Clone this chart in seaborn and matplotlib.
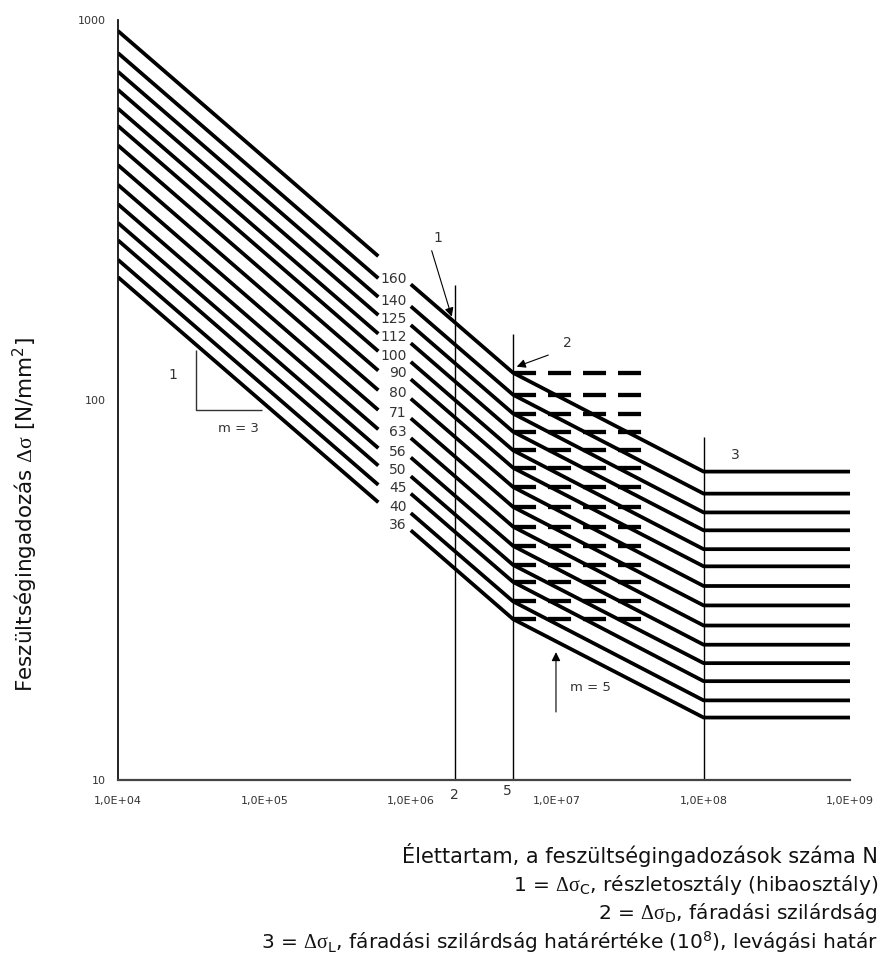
import matplotlib
matplotlib.use("Agg")
import matplotlib.pyplot as plt
import numpy as np
import pandas as pd
import seaborn as sns
from matplotlib.ticker import FixedLocator, FixedFormatter, NullLocator
from matplotlib.transforms import blended_transform_factory

# Detail categories: stress range at 2*10^6 cycles [N/mm^2]
categories = [160, 140, 125, 112, 100, 90, 80, 71, 63, 56, 50, 45, 40, 36]

# Stress range of each category at the curve vertices
stress_1e4 = [935.7, 818.7, 731.0, 655.0, 584.8, 526.3, 467.8, 415.2, 368.4, 327.5, 292.4, 263.2, 233.9, 210.5]
stress_6e5 = [239.0, 209.1, 186.7, 167.3, 149.4, 134.4, 119.5, 106.1, 94.1, 83.7, 74.7, 67.2, 59.8, 53.8]
stress_1e6 = [201.6, 176.4, 157.5, 141.1, 126.0, 113.4, 100.8, 89.5, 79.4, 70.6, 63.0, 56.7, 50.4, 45.4]
stress_D = [117.9, 103.2, 92.1, 82.5, 73.7, 66.3, 59.0, 52.3, 46.4, 41.3, 36.8, 33.2, 29.5, 26.5]
stress_L = [64.8, 56.7, 50.6, 45.4, 40.5, 36.5, 32.4, 28.8, 25.5, 22.7, 20.3, 18.2, 16.2, 14.6]

# Cycle counts of the vertices
N_START, N_GAP_LO, N_GAP_HI = 1e4, 6e5, 1e6
N_C, N_D, N_L, N_END = 2e6, 5e6, 1e8, 1e9
N_DASH_END = 3.86e7

x_ticks = [1e4, 1e5, 1e6, 1e7, 1e8, 1e9]
x_tick_labels = ["1,0E+04", "1,0E+05", "1,0E+06", "1,0E+07", "1,0E+08", "1,0E+09"]
y_ticks = [10, 100, 1000]
y_tick_labels = ["10", "100", "1000"]

# Long table: one left branch (m = 3) and one right branch per category
rows = []
for i, c in enumerate(categories):
    for n, s in [(N_START, stress_1e4[i]), (N_GAP_LO, stress_6e5[i])]:
        rows.append({"N": n, "S": s, "branch": f"{c}-a"})
    for n, s in [(N_GAP_HI, stress_1e6[i]), (N_C, c), (N_D, stress_D[i]),
                 (N_L, stress_L[i]), (N_END, stress_L[i])]:
        rows.append({"N": n, "S": s, "branch": f"{c}-b"})
curves = pd.DataFrame(rows)

sns.set_style("white")
plt.rcParams["font.family"] = ["DejaVu Sans"]
plt.rcParams["mathtext.fontset"] = "custom"
plt.rcParams["mathtext.rm"] = "Liberation Serif"
plt.rcParams["mathtext.sf"] = "DejaVu Sans"
plt.rcParams["lines.scale_dashes"] = False
plt.rcParams["lines.solid_capstyle"] = "butt"

TXT = "#333333"

fig = plt.figure(figsize=(8.83, 9.65), dpi=100)
ax = fig.add_axes([118 / 883, 1 - 780 / 965, 732 / 883, 760 / 965])
ax.set_xscale("log")
ax.set_yscale("log")

sns.lineplot(data=curves, x="N", y="S", units="branch", estimator=None, sort=False,
             color="black", lw=2.7, ax=ax, legend=False)

# Fatigue limits shown as dashed levels
ax.hlines(stress_D, N_D, N_DASH_END, colors="black", lw=3.1,
          linestyles=[(0, (16.6, 8.6))])

# Reference verticals at 2e6, 5e6 and 1e8 cycles
ax.vlines([N_C, N_D, N_L], 10, [200.7, 149.2, 79.9], colors="black", lw=1.0)

# Category labels in the gap between the two branches
for i, c in enumerate(categories):
    f = np.log(9.0e5 / N_GAP_LO) / np.log(N_GAP_HI / N_GAP_LO)
    y = np.exp((1 - f) * np.log(stress_6e5[i]) + f * np.log(stress_1e6[i]))
    ax.text(9.4e5, y, str(c), ha="right", va="center", fontsize=10, color=TXT)

arrow = dict(arrowstyle="-|>", color="black", lw=0.8, mutation_scale=13,
             shrinkA=0, shrinkB=0)
ax.text(1.527e6, 266.9, "1", ha="center", va="center", fontsize=10, color=TXT)
ax.annotate("", xy=(1.903e6, 165.7), xytext=(1.389e6, 247.1), arrowprops=arrow)
ax.text(1.167e7, 141.3, "2", ha="center", va="center", fontsize=10, color=TXT)
ax.annotate("", xy=(5.29e6, 122.4), xytext=(8.69e6, 131.3), arrowprops=arrow)
ax.text(1.639e8, 71.7, "3", ha="center", va="center", fontsize=10, color=TXT)
ax.annotate("", xy=(9.81e6, 21.7), xytext=(9.81e6, 15.1), arrowprops=arrow)
ax.text(1.675e7, 17.5, "m = 5", ha="center", va="center", fontsize=9.5, color=TXT)

# Slope triangle for m = 3
ax.plot([3.41e4, 3.41e4, 9.63e4], [135.4, 94.1, 94.1], color="#333333", lw=1.0)
ax.text(2.376e4, 116.4, "1", ha="center", va="center", fontsize=10, color=TXT)
ax.text(6.6e4, 83.9, "m = 3", ha="center", va="center", fontsize=9.5, color=TXT)

# Markers for 2e6 and 5e6 under the axis
tr = blended_transform_factory(ax.transData, ax.transAxes)
ax.text(2.0e6, -0.020, "2", transform=tr, ha="center", va="center", fontsize=10, color=TXT)
ax.text(4.54e6, -0.015, "5", transform=tr, ha="center", va="center", fontsize=10, color=TXT)

ax.set_xlim(1e4, 1e9)
ax.set_ylim(10, 1000)
ax.xaxis.set_major_locator(FixedLocator(x_ticks))
ax.xaxis.set_major_formatter(FixedFormatter(x_tick_labels))
ax.yaxis.set_major_locator(FixedLocator(y_ticks))
ax.yaxis.set_major_formatter(FixedFormatter(y_tick_labels))
ax.xaxis.set_minor_locator(NullLocator())
ax.yaxis.set_minor_locator(NullLocator())
ax.tick_params(axis="both", which="major", direction="inout", length=7, width=1.0,
               color="#222222", labelsize=8, labelcolor=TXT)
ax.tick_params(axis="x", pad=8)
ax.tick_params(axis="y", pad=5)
ax.set_xlabel("")
ax.set_ylabel("")
for side in ["top", "right"]:
    ax.spines[side].set_visible(False)
ax.spines["left"].set_color("#111111")
ax.spines["left"].set_linewidth(1.3)
ax.spines["bottom"].set_color("#444444")
ax.spines["bottom"].set_linewidth(1.6)
ax.grid(False)

fig.text(25 / 883, 1 - 515 / 965,
         r"Feszültségingadozás $\mathrm{Δσ}$ [N/mm$^\mathsf{2}$]",
         rotation=90, ha="center", va="center", fontsize=15.5, color="#111111")
fig.text(878 / 883, 1 - 855 / 965, "Élettartam, a feszültségingadozások száma N",
         ha="right", va="center", fontsize=15, color="#111111")
fig.text(878 / 883, 1 - 885 / 965,
         r"1 = $\mathrm{Δσ}_\mathsf{C}$, részletosztály (hibaosztály)",
         ha="right", va="center", fontsize=14.5, color="#111111")
fig.text(878 / 883, 1 - 913 / 965,
         r"2 = $\mathrm{Δσ}_\mathsf{D}$, fáradási szilárdság",
         ha="right", va="center", fontsize=14.5, color="#111111")
fig.text(878 / 883, 1 - 942 / 965,
         r"3 = $\mathrm{Δσ}_\mathsf{L}$, fáradási szilárdság határértéke (10$^\mathsf{8}$), levágási határ",
         ha="right", va="center", fontsize=14.5, color="#111111")

fig.savefig("out.png", dpi=100, facecolor="white")
